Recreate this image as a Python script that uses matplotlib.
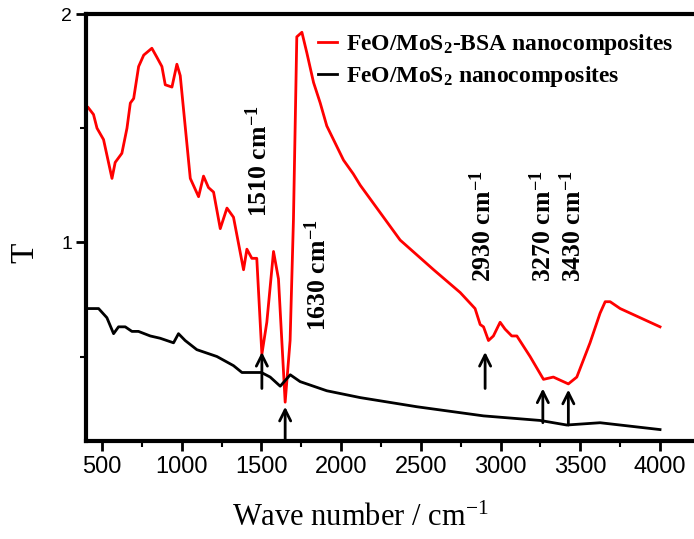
import matplotlib
matplotlib.use('Agg')
import matplotlib.pyplot as plt
from matplotlib.ticker import MultipleLocator

# FTIR spectra, values
bsa_wave = [414, 447, 469, 510, 563, 583, 625, 657, 678, 699, 730, 762, 813, 845, 876,
            897, 939, 970, 991, 1054, 1106, 1137, 1168, 1200, 1242, 1284, 1325, 1388,
            1409, 1440, 1471, 1503, 1534, 1576, 1607, 1649, 1680, 1701, 1722, 1754,
            1785, 1827, 1869, 1910, 2015, 2076, 2120, 2245, 2370, 2580, 2747, 2840,
            2872, 2893, 2924, 2955, 2997, 3028, 3070, 3102, 3185, 3269, 3331, 3425,
            3478, 3561, 3624, 3656, 3687, 3750, 3875, 4000]
bsa_t = [1.59, 1.56, 1.50, 1.45, 1.28, 1.35, 1.39, 1.50, 1.61, 1.63, 1.77, 1.82, 1.85,
         1.81, 1.77, 1.69, 1.68, 1.78, 1.73, 1.28, 1.20, 1.29, 1.24, 1.22, 1.06, 1.15,
         1.11, 0.88, 0.97, 0.93, 0.93, 0.51, 0.65, 0.96, 0.84, 0.30, 0.57, 1.10, 1.90,
         1.92, 1.83, 1.70, 1.61, 1.51, 1.36, 1.30, 1.25, 1.13, 1.01, 0.88, 0.78, 0.71,
         0.64, 0.63, 0.57, 0.59, 0.65, 0.62, 0.59, 0.59, 0.50, 0.40, 0.41, 0.38, 0.41,
         0.56, 0.69, 0.74, 0.74, 0.71, 0.67, 0.63]

bare_wave = [416, 479, 531, 573, 604, 646, 688, 729, 803, 865, 949, 980, 1022, 1095,
             1221, 1325, 1378, 1430, 1500, 1555, 1618, 1681, 1743, 1910, 2120, 2475,
             2893, 3248, 3415, 3624, 4000]
bare_t = [0.71, 0.71, 0.67, 0.60, 0.63, 0.63, 0.61, 0.61, 0.59, 0.58, 0.56, 0.60, 0.57,
          0.53, 0.50, 0.46, 0.43, 0.43, 0.43, 0.41, 0.37, 0.42, 0.39, 0.35, 0.32, 0.28,
          0.24, 0.22, 0.20, 0.21, 0.18]

# peak labels (bottom of rotated text) and arrows (tail -> tip)
peak_wave = [1510, 1630, 2930, 3270, 3430]
peak_label_x = [1480, 1850, 2890, 3261, 3449]
peak_label_y = [1.11, 0.61, 0.825, 0.825, 0.825]
arrow_x = [1503, 1649, 2903, 3265, 3425]
arrow_tail = [0.36, 0.13, 0.36, 0.21, 0.20]
arrow_tip = [0.52, 0.28, 0.52, 0.36, 0.355]

plt.rcParams['mathtext.fontset'] = 'custom'
plt.rcParams['mathtext.rm'] = 'Liberation Serif'
plt.rcParams['mathtext.bf'] = 'Liberation Serif:bold'
plt.rcParams['mathtext.it'] = 'Liberation Serif:italic'
plt.rcParams['mathtext.default'] = 'rm'

W, H = 694, 539
fig = plt.figure(figsize=(W / 100, H / 100), dpi=100)
ax = fig.add_axes([86 / W, 1 - 441 / H, (W - 86) / W, (441 - 14) / H])

ax.plot(bsa_wave, bsa_t, color='#ff0000', lw=2, label='FeO/MoS$_\\mathbf{2}$-BSA nanocomposites')
ax.plot(bare_wave, bare_t, color='black', lw=2, label='FeO/MoS$_\\mathbf{2}$ nanocomposites')

for wn, lx, ly in zip(peak_wave, peak_label_x, peak_label_y):
    ax.text(lx, ly, f'{wn} cm$^\\mathbf{{-1}}$', rotation=90, ha='center', va='bottom',
            family='Liberation Serif', fontweight='bold', fontsize=18.5)

for xa, t0, t1 in zip(arrow_x, arrow_tail, arrow_tip):
    ax.annotate('', xy=(xa, t1), xytext=(xa, t0),
                arrowprops=dict(arrowstyle='->', lw=2, color='black', mutation_scale=20,
                                shrinkA=0, shrinkB=0))

ax.set_xlim(400, 4213)
ax.set_ylim(0.13, 2.0)
ax.set_xticks([500, 1000, 1500, 2000, 2500, 3000, 3500, 4000])
ax.xaxis.set_minor_locator(MultipleLocator(250))
ax.yaxis.set_major_locator(MultipleLocator(1))
ax.yaxis.set_minor_locator(MultipleLocator(0.5))

for side in ['left', 'bottom', 'top']:
    ax.spines[side].set_linewidth(3)
ax.spines['right'].set_visible(False)

ax.tick_params(axis='both', which='major', direction='out', length=7, width=2)
ax.tick_params(axis='both', which='minor', direction='out', length=4, width=1.5)
ax.tick_params(axis='x', labelsize=17, pad=4)
ax.tick_params(axis='y', labelsize=14, pad=3)
for lab in ax.get_xticklabels() + ax.get_yticklabels():
    lab.set_family('Liberation Sans')

ax.set_xlabel('Wave number / cm$^{-1}$', family='Liberation Serif', fontsize=22)
ax.xaxis.set_label_coords((360 - 86) / (W - 86), -(504 - 441) / (441 - 14))
ax.set_ylabel('T', family='Liberation Serif', fontsize=24)
ax.yaxis.set_label_coords(-(86 - 40) / (W - 86), (441 - 253) / (441 - 14))

ax.legend(loc='upper left', bbox_to_anchor=(318 / W, 1 - 32 / H),
          bbox_transform=fig.transFigure, frameon=False, borderpad=0,
          borderaxespad=0, handlelength=0.8, handletextpad=0.4, labelspacing=0.3,
          prop={'family': 'Liberation Serif', 'weight': 'bold', 'size': 17})

fig.savefig('out.png', dpi=100)
